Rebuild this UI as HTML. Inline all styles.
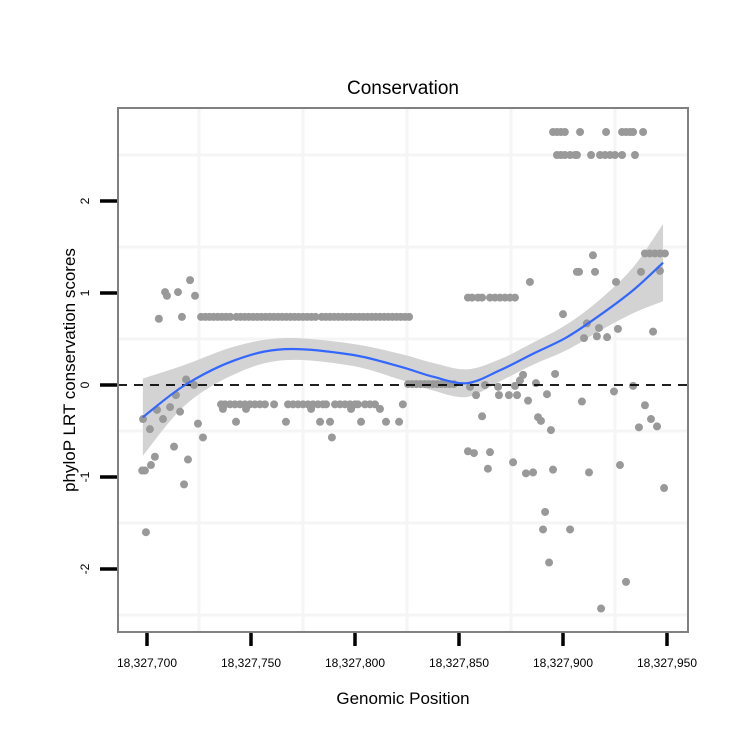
<!DOCTYPE html>
<html><head><meta charset="utf-8"><style>
body{margin:0;background:#fff}
svg text{font-family:"Liberation Sans",sans-serif}
</style></head><body>
<svg id="chart" width="750" height="750" viewBox="0 0 750 750" xmlns="http://www.w3.org/2000/svg">
<defs><clipPath id="pc"><rect x="118" y="108" width="570" height="524"/></clipPath></defs>
<rect width="750" height="750" fill="#fff"/>
<text x="403" y="94" font-size="19" text-anchor="middle">Conservation</text>
<text x="403" y="704" font-size="17" text-anchor="middle">Genomic Position</text>
<text transform="translate(75,370) rotate(-90)" font-size="17" text-anchor="middle">phyloP LRT conservation scores</text>
<g clip-path="url(#pc)">
<g id="grid"></g>
<g id="band"></g>
<g id="pts"></g>
<g id="fit"></g>
</g>
<g id="axes"></g>
<rect x="118" y="108" width="570" height="524" fill="none" stroke="#808080" stroke-width="2"/>
</svg>
<script>
const xBase = 18327700;
const xTicks = [0, 50, 100, 150, 200, 250];
const xTickLabels = ["18,327,700","18,327,750","18,327,800","18,327,850","18,327,900","18,327,950"];
const yTicks = [-2, -1, 0, 1, 2];
const yTickLabels = ["-2","-1","0","1","2"];
const ptX = [-1.9,-0.5,-1,1.4,-2.3,1.9,3.8,5.7,8.7,9.6,14.9,20.7,23.1,16.8,18.8,22.6,4.8,7.7,11.1,13.9,15.9,13,19.7,17.8,24.5,26.9,
26,28,30,32,34,36,38,40,43,45,47,49,51,53,55,57,59,61,63,65,67,69,71,73,75,77,79,81,84,86,88,90,92,94,96,98,100,102,104,106,108,110,112,114,116,118,120,122,124,126,
35.6,37.5,39.9,42.3,44.7,47.1,49.5,51.9,54.3,56.7,61.1,67.8,70.2,72.6,75,77.4,79.8,82.2,84.6,86.1,90.4,92.8,95.2,97.6,100,101.4,104.8,107.2,109.6,123,
36.5,47.6,78.9,98.1,112,42.8,66.8,83.2,88,102.9,114.9,121.2,88.9,
125.5,127.5,129.5,131.5,133.5,135.5,137.5,139.5,141.5,143.5,145.5,147.5,
195.2,197.1,199,200.9,208.2,220.7,228.4,230.3,232.2,233.7,238.5,
197.1,199,200.9,203.4,205.8,206.7,213.5,217.8,220.2,222.6,225,228.4,234.6,
239.4,241.8,244.2,246.6,249,
214.4,206.7,207.7,215.4,184.1,225.5,237.5,246.6,
154.3,156.3,159.1,161.1,164.9,167.3,169.7,172.1,174.5,176.9,
200,211.5,217.3,210.1,216.3,221.2,226.4,243.3,
196.2,180.8,179.3,187,155.3,162.5,168.8,176.9,233.7,224.5,158.2,169.2,174,177.9,192.3,183.2,209.1,239.4,
161.1,188,189.4,194.2,236.5,242.3,245.2,154.3,157.2,164.9,163.9,176,182.2,185.6,195.2,212.5,227.4,248.6,191.4,190.4,203.4,193.3,230.3,218.3];
const ptY = [-0.37,-1.6,-0.93,-0.48,-0.93,-0.87,-0.78,0.72,1.01,0.97,1.01,1.14,0.97,0.74,0.06,0,-0.27,-0.37,-0.24,-0.11,-0.29,-0.67,-0.81,-1.08,-0.42,-0.57,
0.74,0.74,0.74,0.74,0.74,0.74,0.74,0.74,0.74,0.74,0.74,0.74,0.74,0.74,0.74,0.74,0.74,0.74,0.74,0.74,0.74,0.74,0.74,0.74,0.74,0.74,0.74,0.74,0.74,0.74,0.74,0.74,0.74,0.74,0.74,0.74,0.74,0.74,0.74,0.74,0.74,0.74,0.74,0.74,0.74,0.74,0.74,0.74,0.74,0.74,
-0.21,-0.21,-0.21,-0.21,-0.21,-0.21,-0.21,-0.21,-0.21,-0.21,-0.21,-0.21,-0.21,-0.21,-0.21,-0.21,-0.21,-0.21,-0.21,-0.21,-0.21,-0.21,-0.21,-0.21,-0.21,-0.21,-0.21,-0.21,-0.21,-0.21,
-0.26,-0.26,-0.26,-0.26,-0.26,-0.4,-0.4,-0.4,-0.4,-0.4,-0.4,-0.4,-0.57,
0.01,0.01,0.01,0.01,0.01,0.01,0.01,0.01,0.01,0.01,0.01,0.01,
2.75,2.75,2.75,2.75,2.75,2.75,2.75,2.75,2.75,2.75,2.75,
2.5,2.5,2.5,2.5,2.5,2.5,2.5,2.5,2.5,2.5,2.5,2.5,2.5,
1.43,1.43,1.43,1.43,1.43,
1.41,1.23,1.23,1.23,1.12,1.12,1.23,1.24,
0.95,0.95,0.95,0.95,0.95,0.95,0.95,0.95,0.95,0.95,
0.77,0.67,0.62,0.51,0.53,0.52,0.61,0.58,
0.12,0.11,0.05,0.02,-0.02,0,-0.02,-0.01,-0.01,-0.07,-0.11,-0.11,-0.11,-0.11,-0.1,-0.17,-0.18,-0.22,
-0.34,-0.35,-0.39,-0.49,-0.46,-0.37,-0.45,-0.72,-0.74,-0.73,-0.91,-0.84,-0.96,-0.95,-0.92,-0.95,-0.87,-1.12,-1.38,-1.57,-1.57,-1.93,-2.14,-2.43];
const fitX = [-2,18.3,42.3,66.3,98.1,121.6,137.5,153.8,169.7,185.6,201.9,217.8,233.7,248.1];
const fitY = [-0.35,0,0.27,0.39,0.33,0.2,0.09,0.02,0.16,0.34,0.52,0.76,1.03,1.33];
const fitSE = [0.42,0.22,0.15,0.12,0.12,0.14,0.15,0.15,0.12,0.12,0.14,0.17,0.25,0.42];

const NS="http://www.w3.org/2000/svg";
const sx = v => 147 + v*2.08;
const sy = v => 385 - v*92;
function mk(tag, parent, attrs){const e=document.createElementNS(NS,tag);for(const k in attrs)e.setAttribute(k,attrs[k]);parent.appendChild(e);return e;}
const grid=document.getElementById('grid');
[25,75,125,175,225].forEach(v=>{const l=mk('line',grid,{x1:sx(v),x2:sx(v),y1:108,y2:632,stroke:'#f5f5f5','stroke-width':3});

});
[-2.5,-1.5,-0.5,0.5,1.5,2.5].forEach(v=>{const l=mk('line',grid,{x1:118,x2:688,y1:sy(v),y2:sy(v),stroke:'#f5f5f5','stroke-width':3});

});
function smooth(px,py){let d='';for(let i=0;i<px.length-1;i++){const x0=px[Math.max(i-1,0)],y0=py[Math.max(i-1,0)],x1=px[i],y1=py[i],x2=px[i+1],y2=py[i+1],x3=px[Math.min(i+2,px.length-1)],y3=py[Math.min(i+2,px.length-1)];
d+=` C${x1+(x2-x0)/6},${y1+(y2-y0)/6} ${x2-(x3-x1)/6},${y2-(y3-y1)/6} ${x2},${y2}`;}return d;}
const fx=fitX.map(sx), fy=fitY.map(sy);
const up=fitY.map((v,i)=>sy(v+fitSE[i])), lo=fitY.map((v,i)=>sy(v-fitSE[i]));
const rfx=fx.slice().reverse(), rlo=lo.slice().reverse();
const band=mk('path',document.getElementById('band'),{d:`M${fx[0]},${up[0]}`+smooth(fx,up)+` L${rfx[0]},${rlo[0]}`+smooth(rfx,rlo)+'Z',fill:'#d3d3d3'});


const pts=document.getElementById('pts');
ptX.forEach((v,i)=>{const c=mk('circle',pts,{cx:sx(v),cy:sy(ptY[i]),r:4,fill:'#999'});

});
const zl=mk('line',document.getElementById('fit'),{x1:118,x2:688,y1:sy(0),y2:sy(0),stroke:'#000','stroke-width':1.8,'stroke-dasharray':'9,7'});


const fl=mk('path',document.getElementById('fit'),{d:`M${fx[0]},${fy[0]}`+smooth(fx,fy),fill:'none',stroke:'#3366ff','stroke-width':2.2});


const axes=document.getElementById('axes');
xTicks.forEach((v,i)=>{const t=mk('line',axes,{x1:sx(v),x2:sx(v),y1:632,y2:646,stroke:'#000','stroke-width':3.5});


const l=mk('text',axes,{x:sx(v),y:667,'font-size':12,'text-anchor':'middle'});l.textContent=xTickLabels[i];

});
yTicks.forEach((v,i)=>{const t=mk('line',axes,{x1:100,x2:118,y1:sy(v),y2:sy(v),stroke:'#000','stroke-width':3.5});


const l=mk('text',axes,{transform:`translate(89,${sy(v)}) rotate(-90)`,'font-size':12,'text-anchor':'middle'});l.textContent=yTickLabels[i];

});
</script>
</body></html>
